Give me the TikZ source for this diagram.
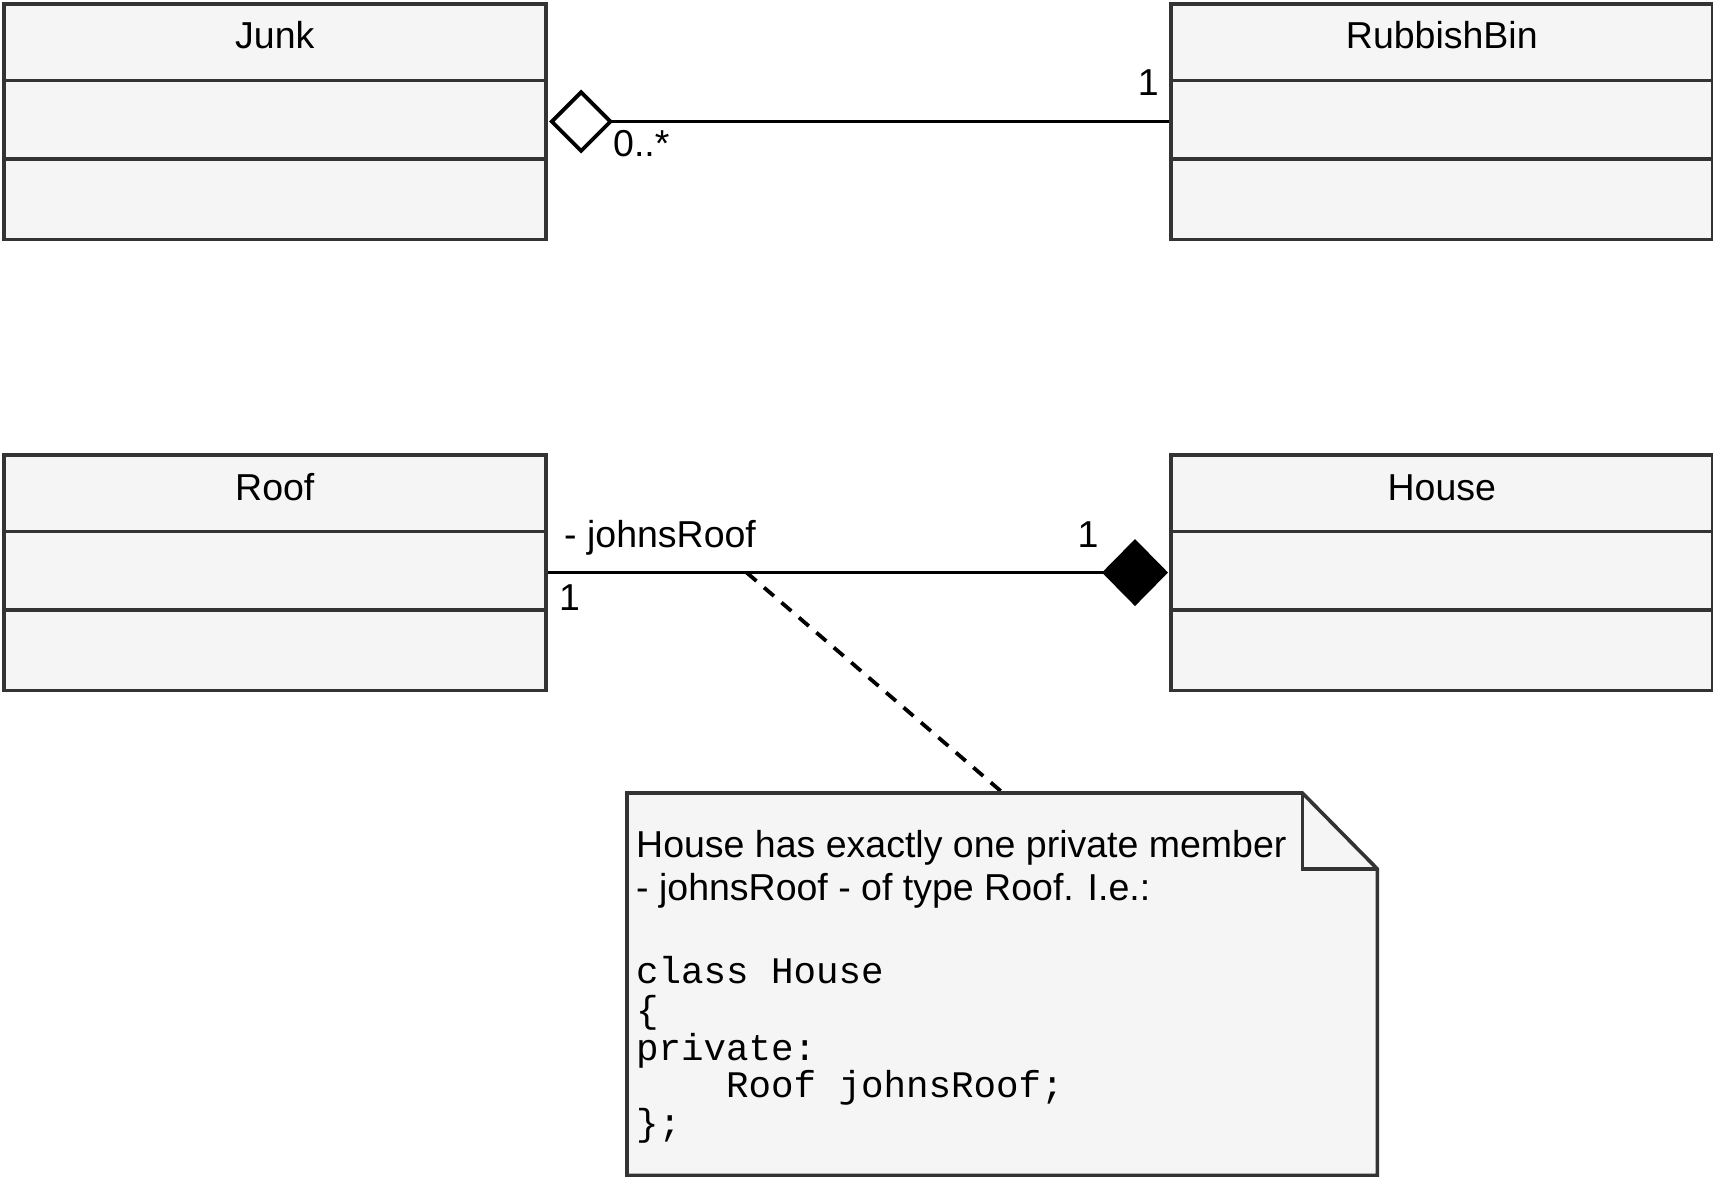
\documentclass[tikz,border=0pt]{standalone}
\usepackage{fontspec}
\setmainfont{Liberation Sans}
\setmonofont{Liberation Mono}
\usetikzlibrary{arrows.meta}
\definecolor{umlborder}{HTML}{333333}
\definecolor{umlfill}{HTML}{F5F5F5}
\tikzset{
  umlline/.style={draw=umlborder, line width=3.6pt},
  classbox/.style={rectangle, draw=umlborder, fill=umlfill, line width=3.6pt,
    minimum width=542pt, minimum height=235.5pt, anchor=north west, inner sep=0pt},
  conn/.style={draw=black, line width=3.8pt},
  notelink/.style={draw=black, line width=3.8pt, dash pattern=on 13pt off 10pt},
  lbl/.style={inner sep=0pt, font=\fontsize{37.5}{44}\selectfont},
  codetxt/.style={inner sep=0pt, anchor=base west, font=\fontsize{37.5}{44}\selectfont\ttfamily},
}
\newcommand\umlclass[4]{%
  \node[classbox] (#1) at (#2,#3) {};
  \draw[umlline] ([yshift=-78.5pt]#1.north west) -- ([yshift=-78.5pt]#1.north east);
  \draw[umlline] ([yshift=-157pt]#1.north west) -- ([yshift=-157pt]#1.north east);
  \node[lbl, anchor=base] (#1-title) at ([yshift=-47pt]#1.north) {#4};
}
\begin{document}
\begin{tikzpicture}[x=1pt, y=-1pt]
\useasboundingbox (0,0) rectangle (1713,1177);

\umlclass{junk}{2}{2}{Junk}
\umlclass{bin}{1169}{2}{RubbishBin}
\umlclass{roof}{2}{453}{Roof}
\umlclass{house}{1169}{453}{House}

% aggregation
\draw[conn, {Diamond[fill=white, length=64pt, width=64pt]}-] ([xshift=1.5pt]junk.east) -- (bin.west);
\node[lbl, anchor=base west] (aggmult) at (613,157) {0..*};
\node[lbl, anchor=base east] (binmult) at (1159,96) {1};

% composition
\draw[conn, -{Diamond[length=66pt, width=67pt]}] (roof.east) -- ([xshift=-1pt]house.west);
\node[lbl, anchor=base west] (rolename) at (564,547) {- johnsRoof};
\node[lbl, anchor=base] (housemult) at (1088,547) {1};
\node[lbl, anchor=base west] (roofmult) at (559,610) {1};

% note
\node[minimum width=750pt, minimum height=382pt, anchor=north west, inner sep=0pt] (note) at (627,793) {};
\coordinate (assoc) at ([xshift=199pt]roof.east);
\coordinate (notehook) at ([xshift=376pt]note.north west);
\draw[notelink] (assoc) -- (notehook);
\draw[umlline, fill=umlfill, line join=miter] (note.north west) -- ([xshift=-75pt]note.north east)
  -- ([yshift=-76pt]note.north east) -- (note.south east) -- (note.south west) -- cycle;
\draw[umlline, line join=miter] ([xshift=-75pt]note.north east) -- ([xshift=-75pt,yshift=-76pt]note.north east)
  -- ([yshift=-76pt]note.north east);

\node[lbl, anchor=base west] (n1) at (636,857) {House has exactly one private member};
\node[lbl, anchor=base west] (n2) at (636,900) {- johnsRoof - of type Roof. I.e.:};
\node[codetxt] (c1) at (636,983) {class House};
\node[codetxt] (c2) at (636,1022) {\{};
\node[codetxt] (c3) at (636,1060) {private:};
\node[codetxt] (c4) at (636,1097) {\hphantom{Roof}Roof johnsRoof;};
\node[codetxt] (c5) at (636,1135) {\};};
\end{tikzpicture}
\end{document}
